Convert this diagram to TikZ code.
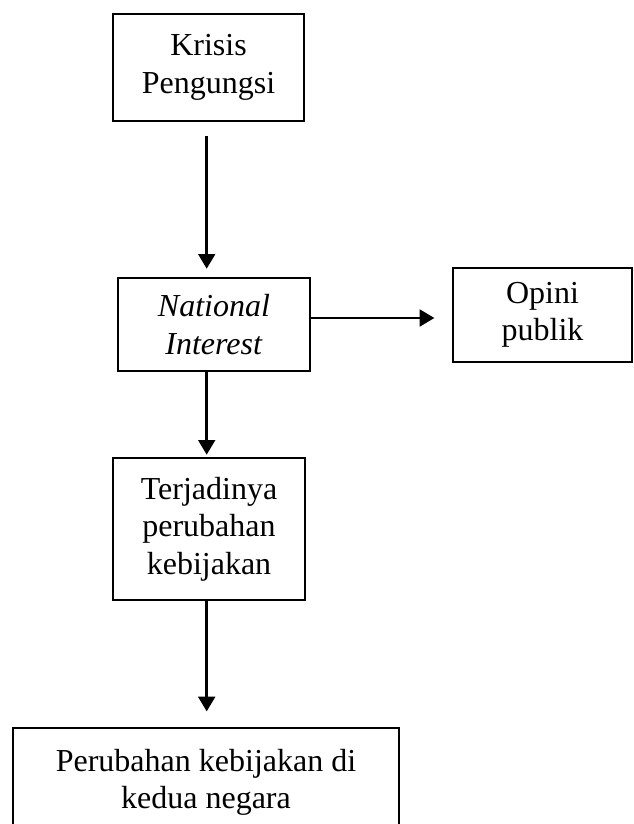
\documentclass[tikz,border=0pt]{standalone}
\usepackage{fontspec}
\setmainfont{Liberation Serif}
\usetikzlibrary{arrows.meta}

\begin{document}
\begin{tikzpicture}[
    x=0.75pt, y=-0.75pt,
    box/.style={draw, line width=0.9pt, inner sep=0pt, align=center,
                font=\fontsize{24}{28}\selectfont},
    flow/.style={line width=2pt},
    >={Triangle[length=11pt, width=12.5pt]}
]

% 1. Page frame (pixels of the reference)
\useasboundingbox (0,0) rectangle (633,824);

\coordinate (spine) at (206.7,0);   % x of the vertical arrows
\coordinate (side) at (0,318);      % y of the side arrow

% 2. Boxes
\node[box, minimum width=191pt*0.75, minimum height=107pt*0.75] (krisis) at (208.5,67.5) {Krisis\\Pengungsi};
\node[box, minimum width=192pt*0.75, minimum height=93pt*0.75] (interest) at (214,324.5) {\textit{National}\\\textit{Interest}};
\node[box, minimum width=179pt*0.75, minimum height=94pt*0.75] (opini) at (542.5,315) {Opini\\publik};
\node[box, minimum width=192pt*0.75, minimum height=142pt*0.75] (terjadi) at (209,529) {Terjadinya\\perubahan\\kebijakan};
\node[box, minimum width=386pt*0.75, minimum height=109pt*0.75] (negara) at (206,782.5) {Perubahan kebijakan di\\kedua negara};

% 3. Arrows
\draw[->, flow, shorten <=11pt, shorten >=6.5pt] (krisis.south -| spine) -- (interest.north -| spine);
\draw[->, flow, shorten >=13.5pt] (interest.east |- side) -- (opini.west |- side);
\draw[->, flow, shorten >=2pt] (interest.south -| spine) -- (terjadi.north -| spine);
\draw[->, flow, shorten >=12pt] (terjadi.south -| spine) -- (negara.north -| spine);

\end{tikzpicture}
\end{document}
